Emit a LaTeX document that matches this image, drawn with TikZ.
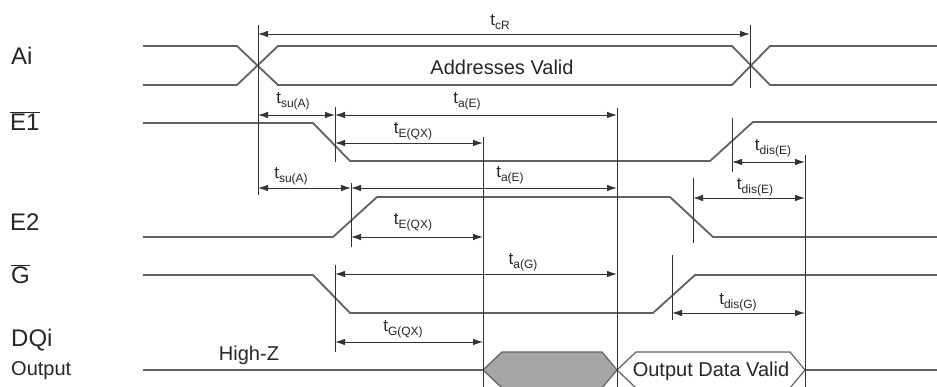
\documentclass[tikz,border=0pt]{standalone}
\usepackage{fontspec}
\setmainfont{Liberation Sans}
\usetikzlibrary{arrows.meta}
\tikzset{
  sig/.style={line width=1.8pt, draw=black!62, line join=round},
  vline/.style={line width=0.9pt, draw=black!80},
  dim/.style={line width=0.9pt, draw=black!80, {Latex[length=10pt,width=6.5pt]}-{Latex[length=10pt,width=6.5pt]}},
  siglab/.style={font=\fontsize{24}{24}\selectfont, text=black!85, inner sep=0, anchor=west},
  txt/.style={font=\fontsize{20}{20}\selectfont, text=black!85, inner sep=0},
  tlab/.style={inner sep=0, text=black!85},
}
\newcommand{\tlbl}[1]{{\fontsize{17}{17}\selectfont t}\raisebox{-4pt}{\fontsize{12}{12}\selectfont #1}}
\begin{document}
\begin{tikzpicture}[x=1pt,y=-1pt]
\useasboundingbox (0,0) rectangle (937,387);
% ---- signal labels
\node[siglab] (lAi) at (11,56) {Ai};
\node[siglab] (lE1) at (10,121) {$\overline{\mbox{E1}}$};
\node[siglab] (lE2) at (10,222) {E2};
\node[siglab] (lG) at (11,274) {$\overline{\mbox{G}}$};
\node[siglab] (lDQ) at (11,340) {DQi};
\node[siglab, font=\fontsize{20}{20}\selectfont] (lOut) at (11,371) {Output};
% ---- waveforms
\draw[sig] (143,46) -- (237,46) -- (278,85) -- (732,85) -- (770,46) -- (937,46);
\draw[sig] (143,85) -- (237,85) -- (278,46) -- (732,46) -- (770,85) -- (937,85);
\node[txt] (addr) at (502,67) {Addresses Valid};
\draw[sig] (143,123) -- (313,123) -- (350,161) -- (710,161) -- (753,122) -- (937,122);
\draw[sig] (143,237) -- (333,237) -- (377,197) -- (670,197) -- (713,237) -- (937,237);
\draw[sig] (143,275) -- (313,275) -- (350,313) -- (653,313) -- (695,275) -- (937,275);
\draw[sig, line width=1.4pt] (143,370) -- (483,370);
\node[txt] (hz) at (249,355) {High-Z};
\draw[line width=1.2pt, draw=black!62, fill=black!35] (483,370) -- (502,352) -- (602,352) -- (617,370) -- (602,388) -- (502,388) -- cycle;
\draw[line width=1.2pt, draw=black!62] (617,370) -- (636,352) -- (790,352) -- (805,370) -- (790,388) -- (636,388) -- cycle;
\node[txt] (odv) at (711,371) {Output Data Valid};
\draw[sig, line width=1.4pt] (805,370) -- (937,370);
% ---- reference verticals
\draw[vline] (258,25) -- (258,195);
\draw[vline] (750,25) -- (750,88);
\draw[vline] (335,107) -- (335,162);
\draw[vline] (351,183) -- (351,247);
\draw[vline] (483,137) -- (483,387);
\draw[vline] (617,108) -- (617,387);
\draw[vline] (732,118) -- (732,172);
\draw[vline] (693,178) -- (693,243);
\draw[vline] (805,155) -- (805,387);
\draw[vline] (335,265) -- (335,352);
\draw[vline] (672,255) -- (672,320);
% ---- dimension end points
\coordinate (cr1) at (258,34);  \coordinate (cr2) at (750,34);
\coordinate (sa1) at (258,115); \coordinate (sa2) at (335,115);
\coordinate (ae1) at (335,115); \coordinate (ae2) at (617,115);
\coordinate (eq1) at (335,143); \coordinate (eq2) at (483,143);
\coordinate (de1) at (732,162); \coordinate (de2) at (805,162);
\coordinate (sb1) at (258,188); \coordinate (sb2) at (351,188);
\coordinate (af1) at (351,188); \coordinate (af2) at (617,188);
\coordinate (df1) at (693,198); \coordinate (df2) at (805,198);
\coordinate (er1) at (351,237); \coordinate (er2) at (483,237);
\coordinate (ag1) at (335,274); \coordinate (ag2) at (617,274);
\coordinate (dg1) at (672,313); \coordinate (dg2) at (805,313);
\coordinate (gq1) at (335,342); \coordinate (gq2) at (483,342);
% ---- dimension arrows
\draw[dim] (cr1) -- (cr2);
\draw[dim] (sa1) -- (sa2);
\draw[dim] (ae1) -- (ae2);
\draw[dim] (eq1) -- (eq2);
\draw[dim] (de1) -- (de2);
\draw[dim] (sb1) -- (sb2);
\draw[dim] (af1) -- (af2);
\draw[dim] (df1) -- (df2);
\draw[dim] (er1) -- (er2);
\draw[dim] (ag1) -- (ag2);
\draw[dim] (dg1) -- (dg2);
\draw[dim] (gq1) -- (gq2);
% ---- timing labels
\node[tlab] (tcr) at (500,22) {\tlbl{cR}};
\node[tlab] (tsa) at (293,101) {\tlbl{su(A)}};
\node[tlab] (tae) at (467,101) {\tlbl{a(E)}};
\node[tlab] (teq) at (413,131) {\tlbl{E(QX)}};
\node[tlab] (tde) at (773,148) {\tlbl{dis(E)}};
\node[tlab] (tsb) at (291,176) {\tlbl{su(A)}};
\node[tlab] (taf) at (510,175) {\tlbl{a(E)}};
\node[tlab] (tdf) at (755,187) {\tlbl{dis(E)}};
\node[tlab] (ter) at (413,222) {\tlbl{E(QX)}};
\node[tlab] (tag) at (523,262) {\tlbl{a(G)}};
\node[tlab] (tdg) at (738,302) {\tlbl{dis(G)}};
\node[tlab] (tgq) at (403,329) {\tlbl{G(QX)}};
\end{tikzpicture}
\end{document}
